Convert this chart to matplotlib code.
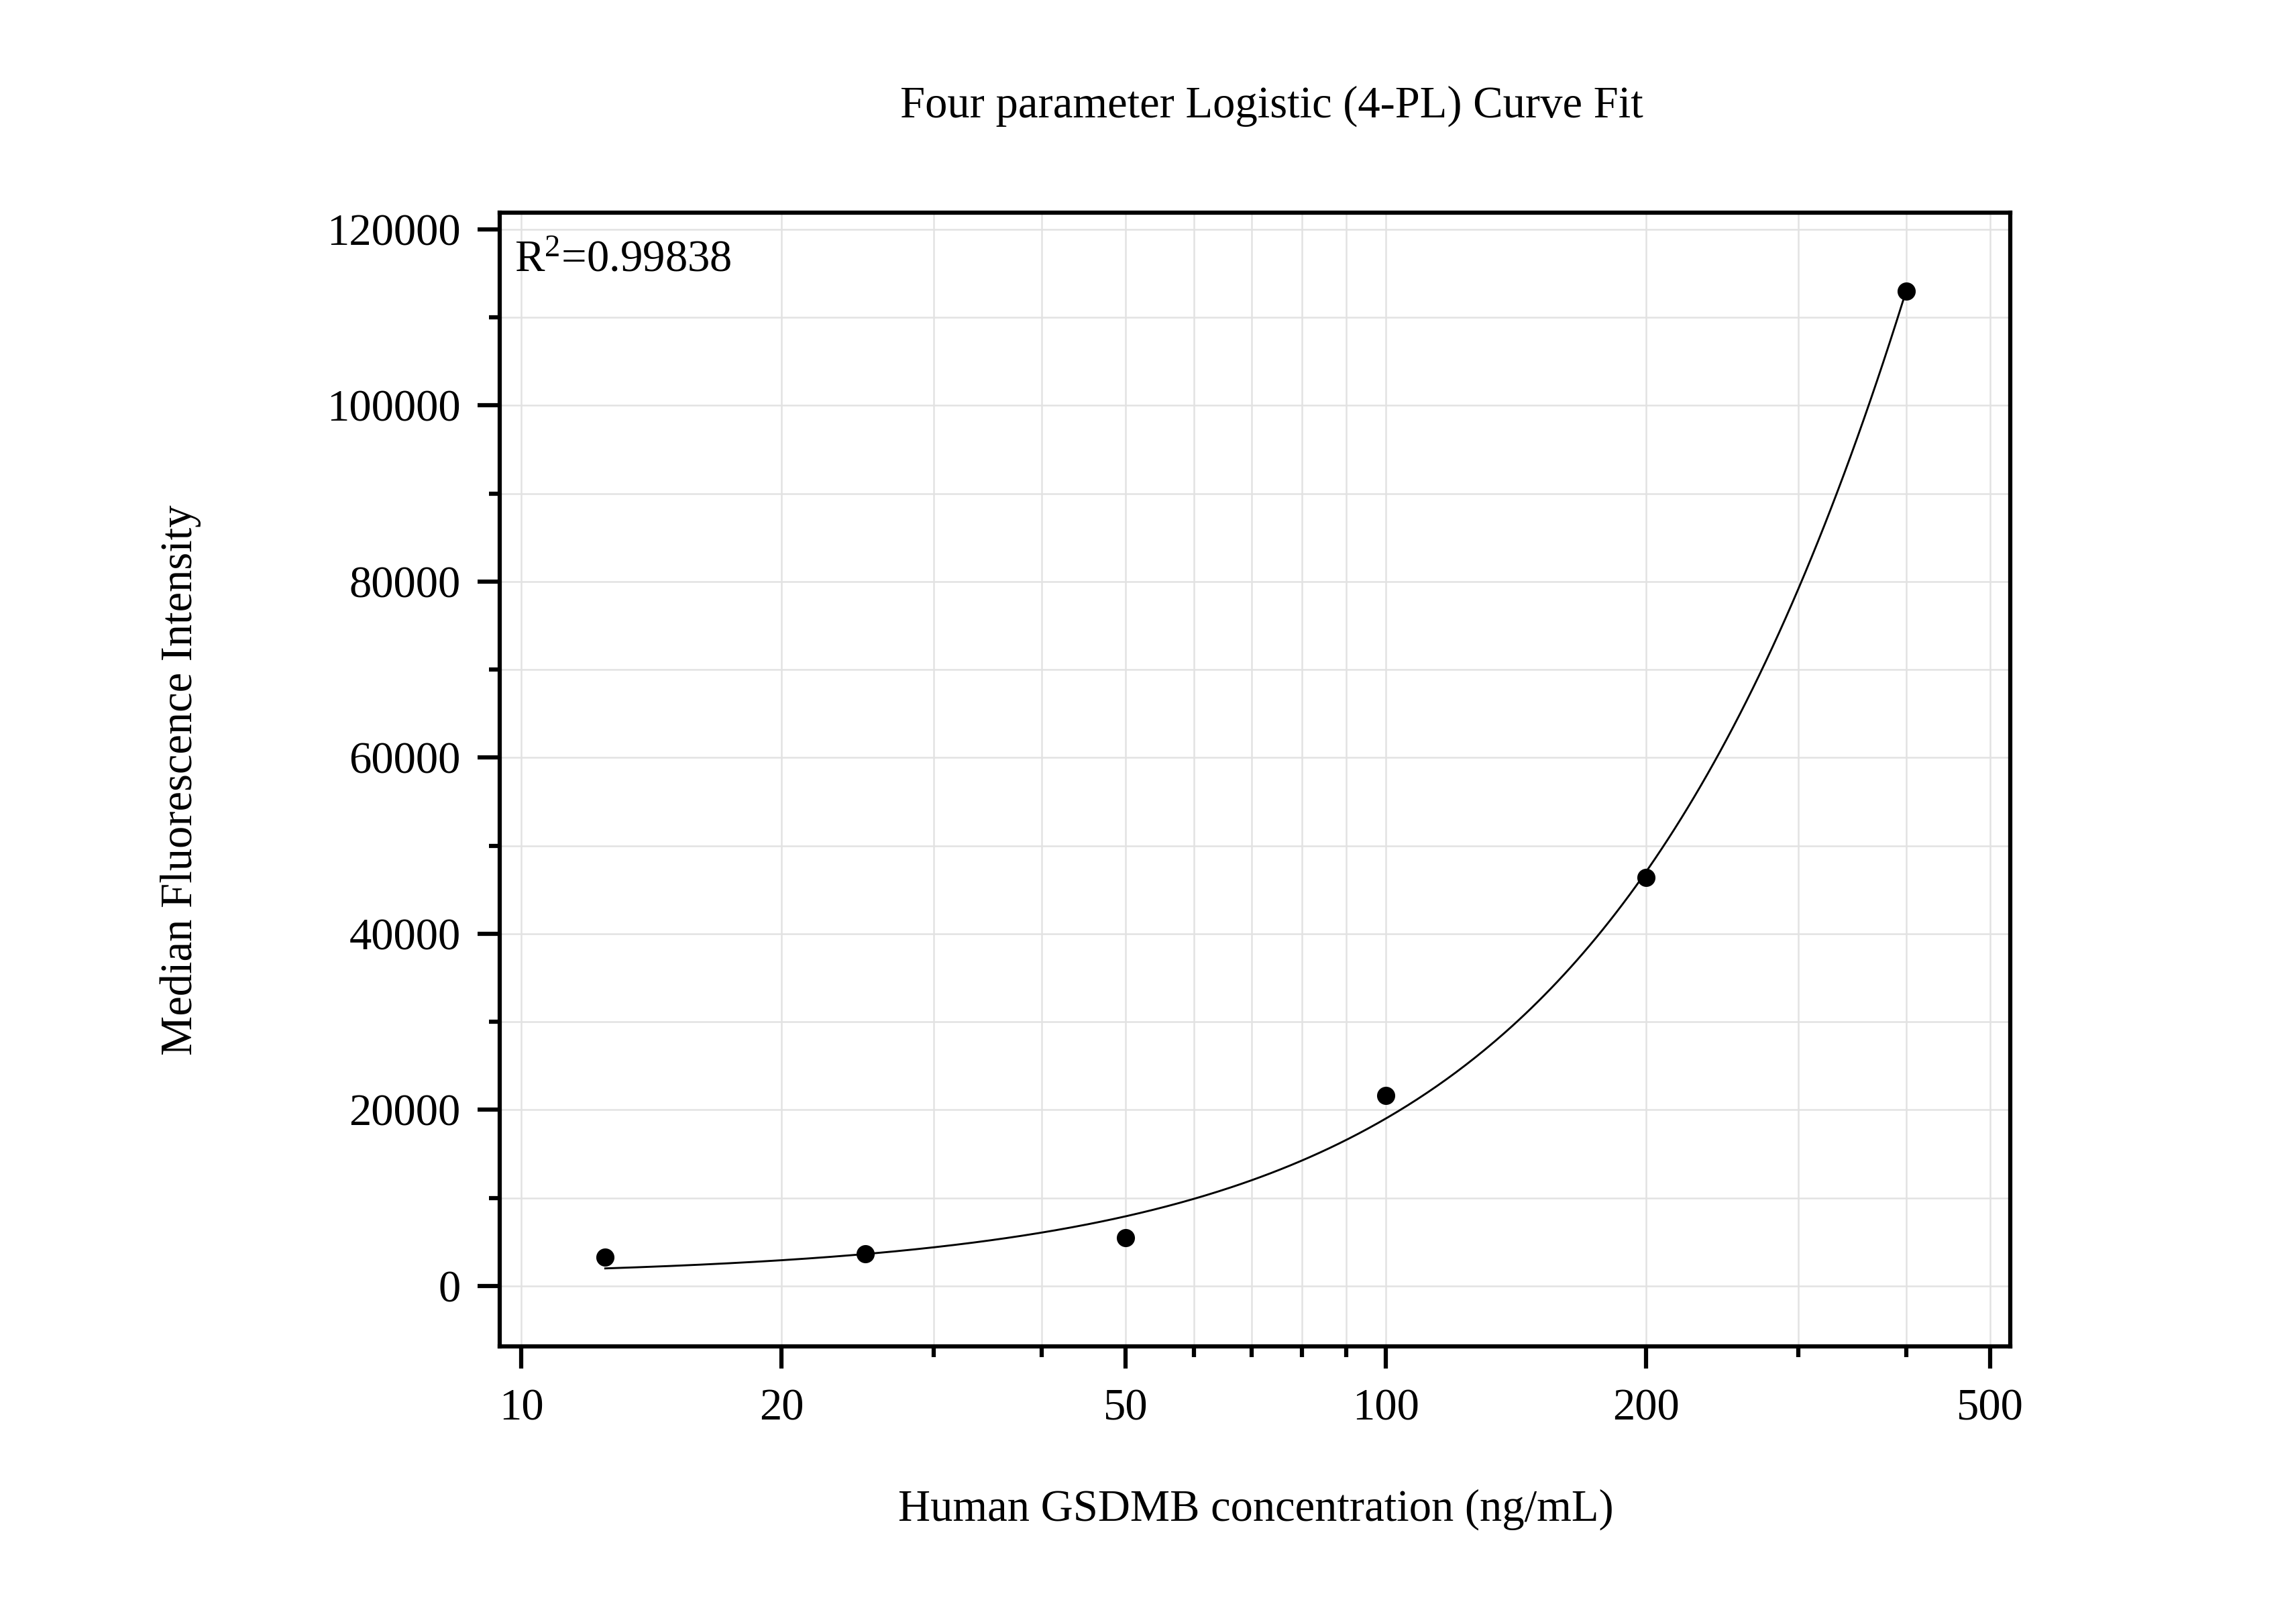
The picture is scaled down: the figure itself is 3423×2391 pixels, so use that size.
import numpy as np
import matplotlib
matplotlib.use("Agg")
import matplotlib.pyplot as plt
from matplotlib.ticker import FixedLocator, NullFormatter, ScalarFormatter

plt.rcParams["font.family"] = ["Liberation Serif", "DejaVu Serif"]
plt.rcParams["mathtext.fontset"] = "custom"
plt.rcParams["mathtext.rm"] = "Liberation Serif"
plt.rcParams["mathtext.it"] = "Liberation Serif:italic"

# standards (ng/mL) and measured MFI
conc = [12.5, 25, 50, 100, 200, 400]
mfi = [3300, 3650, 5450, 21600, 46400, 113000]

# 4-PL fit parameters: bottom, slope, inflection, top
fit_bottom = 1000.0
fit_slope = 1.4
fit_c = 1604.0
fit_top = 896000.0
r_squared = "0.99838"

x_ticks = [10, 20, 50, 100, 200, 500]
x_minor = [30, 40, 60, 70, 80, 90, 300, 400]
y_ticks = [0, 20000, 40000, 60000, 80000, 100000, 120000]


def four_pl(x):
    return fit_top + (fit_bottom - fit_top) / (1 + (x / fit_c) ** fit_slope)


fig = plt.figure(figsize=(3423 / 300, 2391 / 300), dpi=300)
ax = fig.add_axes([0.2176, 0.1606, 0.8756 - 0.2176, 0.8674 - 0.1606])

xs = np.logspace(np.log10(conc[0]), np.log10(conc[-1]), 400)
ax.plot(xs, four_pl(xs), color="black", lw=0.7, zorder=3)
ax.plot(conc, mfi, "o", color="black", ms=5.5, zorder=4)

ax.set_xscale("log")
ax.set_xlim(9.434, 528)
ax.set_ylim(-6860, 121900)

ax.xaxis.set_major_locator(FixedLocator(x_ticks))
ax.xaxis.set_minor_locator(FixedLocator(x_minor))
ax.xaxis.set_major_formatter(ScalarFormatter())
ax.xaxis.set_minor_formatter(NullFormatter())
ax.set_xticklabels([str(t) for t in x_ticks])
ax.set_yticks(y_ticks)
ax.set_yticks(np.arange(10000, 120000, 20000), minor=True)
ax.set_yticklabels([str(t) for t in y_ticks])

ax.grid(True, which="both", color="#e2e2e2", lw=0.6, zorder=0)
ax.set_axisbelow(True)

for s in ax.spines.values():
    s.set_linewidth(1.5)
ax.tick_params(axis="both", which="major", direction="out", length=8, width=1.5,
               labelsize=16, top=False, right=False)
ax.tick_params(axis="both", which="minor", direction="out", length=3.8, width=1.5,
               top=False, right=False)
ax.tick_params(axis="x", which="major", pad=7)
ax.tick_params(axis="y", which="major", pad=6)

ax.text(0.010, 0.948, "R$^{2}$=" + r_squared, transform=ax.transAxes,
        fontsize=16, va="baseline", ha="left")

fig.text(0.5538, 0.934, "Four parameter Logistic (4-PL) Curve Fit", fontsize=16,
         ha="center", va="center")
fig.text(0.5469, 0.0589, "Human GSDMB concentration (ng/mL)", fontsize=16,
         ha="center", va="center")
fig.text(0.0786, 0.5136, "Median Fluorescence Intensity", fontsize=16,
         ha="center", va="center", rotation=90)

fig.savefig("out.png", dpi=300)
